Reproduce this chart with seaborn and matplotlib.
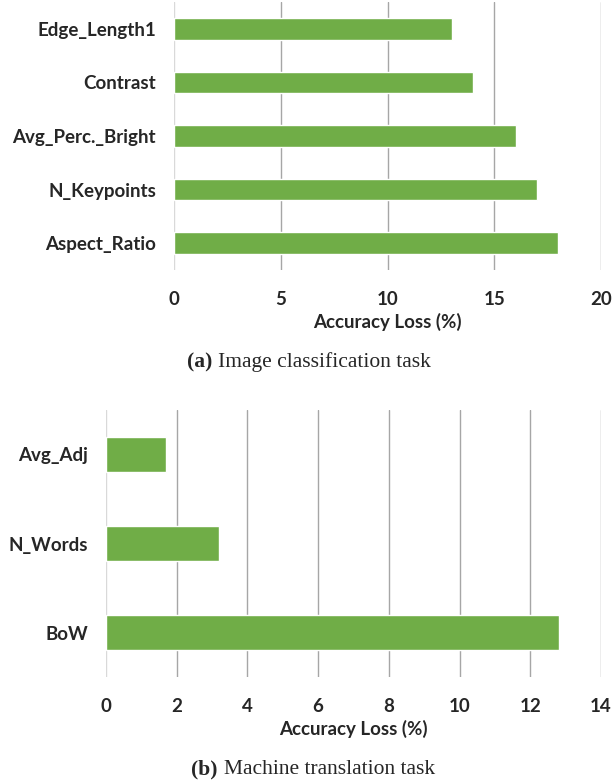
import matplotlib
matplotlib.use('Agg')
import matplotlib.pyplot as plt
import seaborn as sns
import pandas as pd

# Daten (a) Bildklassifikation
img_features = ['Edge_Length1', 'Contrast', 'Avg_Perc._Bright', 'N_Keypoints', 'Aspect_Ratio']
img_loss = [13, 14, 16, 17, 18]
img_ticks = [0, 5, 10, 15, 20]

# Daten (b) maschinelle Übersetzung
mt_features = ['Avg_Adj', 'N_Words', 'BoW']
mt_loss = [1.7, 3.2, 12.8]
mt_ticks = [0, 2, 4, 6, 8, 10, 12, 14]

captions = [('(a)', 'Image classification task'), ('(b)', 'Machine translation task')]

sns.set_style('white')
plt.rcParams['font.family'] = ['Lato', 'DejaVu Sans']

GREEN = '#70AD47'
GRID = '#a6a6a6'

fig = plt.figure(figsize=(6.13, 7.84), dpi=100)
ax1 = fig.add_axes([174 / 613, 1 - 270 / 784, (601 - 174) / 613, 268 / 784])
ax2 = fig.add_axes([106 / 613, 1 - 677 / 784, (601 - 106) / 613, 267 / 784])


def draw(ax, feats, vals, ticks):
    df = pd.DataFrame({'feature': feats, 'loss': vals})
    sns.barplot(data=df, x='loss', y='feature', orient='h', color=GREEN,
                width=0.4, saturation=1, ax=ax, zorder=3)
    ax.set_xlim(ticks[0], ticks[-1])
    ax.set_ylim(len(feats) - 0.5, -0.5)
    ax.set_xticks(ticks)
    ax.set_xticklabels([str(t) for t in ticks])
    ax.grid(axis='x', color=GRID, linewidth=1.0)
    ax.grid(axis='y', visible=False)
    ax.xaxis.get_gridlines()[0].set_color('#d9d9d9')
    for s in ax.spines.values():
        s.set_visible(False)
    ax.tick_params(axis='both', length=0, labelsize=13.5, colors='#262626')
    ax.tick_params(axis='x', pad=15)
    ax.tick_params(axis='y', pad=13)
    for lab in ax.get_xticklabels() + ax.get_yticklabels():
        lab.set_fontweight('bold')
    ax.set_xlabel('Accuracy Loss (%)', fontsize=13.5, fontweight='bold',
                  color='#262626', labelpad=4)
    ax.set_ylabel('')


draw(ax1, img_features, img_loss, img_ticks)
draw(ax2, mt_features, mt_loss, mt_ticks)

# Untertitel
for (tag, txt), y, xt in zip(captions, [362, 769], [212, 218]):
    fig.text(xt / 613, 1 - y / 784, tag, ha='right', va='center', fontsize=15.5,
             fontweight='bold', family='Liberation Serif')
    fig.text((xt + 6) / 613, 1 - y / 784, txt, ha='left', va='center', fontsize=15.5,
             family='Liberation Serif')

fig.savefig('out.png', dpi=100)
